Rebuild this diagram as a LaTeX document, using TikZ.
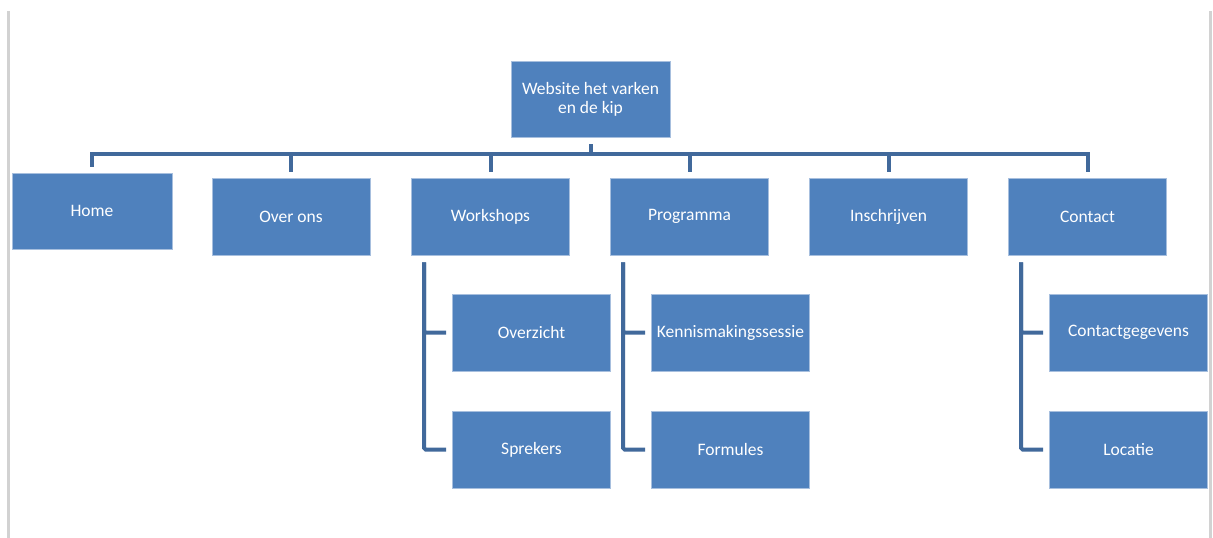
\documentclass[tikz,border=0pt]{standalone}
\usepackage{fontspec}
\setmainfont{Carlito}
\usetikzlibrary{positioning, calc}

\definecolor{boxblue}{HTML}{4F81BD}
\definecolor{boxedge}{HTML}{A7BFDE}
\definecolor{linkblue}{HTML}{41699B}
\definecolor{pagegray}{HTML}{D2D2D2}

\begin{document}
\begin{tikzpicture}[x=1pt, y=-1pt]
    \tikzstyle{page}=[draw=pagegray, line width=3pt]
    \tikzstyle{box}=[draw=boxedge, line width=0.8pt, fill=boxblue, text=white, minimum width=158pt, minimum height=77pt, inner sep=0pt, align=center, font=\fontsize{17.5}{19}\selectfont]
    \tikzstyle{link}=[draw=linkblue, line width=4pt, shorten <=7pt, shorten >=6pt]
    \tikzstyle{sublink}=[draw=linkblue, line width=4pt, shorten >=6pt, rounded corners=1.5pt]

    \useasboundingbox (0,0) rectangle (1213,538);

    % Page edges
    \draw[page] (8.5,11) -- (8.5,538);
    \draw[page] (1210.5,11) -- (1210.5,538);

    % Top of the site
    \node[box, minimum width=159pt, minimum height=76pt] (site) at (590.5,99) {Website het varken\\en de kip};

    % Main menu
    \node[box, minimum width=160pt, minimum height=76pt] (home) at (92,211) {Home};
    \foreach \name / \x / \label in {over/291/Over ons, workshops/490.5/Workshops, programma/689.5/Programma, inschrijven/888.5/Inschrijven, contact/1087.5/Contact}
    \node[box] (\name) at (\x,216.5) {\label};

    % Sub pages
    \foreach \name / \x / \y / \label in {overzicht/531.5/332.5/Overzicht, sprekers/531.5/449.5/Sprekers, kennis/730.5/332.5/Kennismakingssessie, formules/730.5/449.5/Formules, gegevens/1128.5/332.5/Contactgegevens, locatie/1128.5/449.5/Locatie}
    \node[box] (\name) at (\x,\y) {\label};

    % Connect the top with the main menu
    \foreach \dest in {home, over, workshops, programma, inschrijven, contact}
    \draw[link] (site.south) -- ++(0,17) -| (\dest.north);

    % Connect the main menu with the sub pages
    \foreach \source / \first / \second in {workshops/overzicht/sprekers, programma/kennis/formules, contact/gegevens/locatie}
    {
        \draw[sublink] (\source.south west) ++(13,7) |- (\first.west);
        \draw[sublink] (\source.south west) ++(13,7) |- (\second.west);
    }
\end{tikzpicture}
\end{document}
